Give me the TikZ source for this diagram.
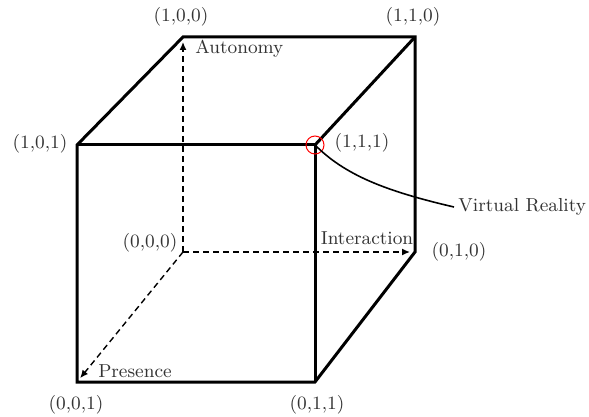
\documentclass[tikz,border=0pt]{standalone}
\usetikzlibrary{arrows.meta}
\begin{document}
\begin{tikzpicture}[x=0.5pt,y=-0.5pt,
  edge/.style={line width=1.5pt,line join=miter},
  axis/.style={line width=0.7pt,dash pattern=on 3pt off 2pt,-{Latex[length=4pt,width=3.5pt]},shorten >=2.5pt},
  lbl/.style={font=\fontsize{9.4}{11}\selectfont,text=black!80,inner sep=0pt},
  every node/.append style={lbl}]
\useasboundingbox (0,0) rectangle (589,417);
% vertices
\coordinate (o) at (183,252);
\coordinate (a) at (183,37);
\coordinate (i) at (415,252);
\coordinate (p) at (77,382);
\coordinate (ai) at (415,37);
\coordinate (ap) at (77,145);
\coordinate (aip) at (315,145);
\coordinate (ip) at (315,382);
% axes
\draw[axis] (o) -- (a);
\draw[axis] (o) -- (i);
\draw[axis] (o) -- (p);
% cube edges
\draw[edge] (ap) -- (a) -- (ai) -- (i) -- (ip) -- (p) -- cycle;
\draw[edge] (ap) -- (aip) -- (ip);
\draw[edge] (aip) -- (ai);
% labels
\node at (181,17) {(1,0,0)};
\node at (413,17) {(1,1,0)};
\node at (40,144) {(1,0,1)};
\node at (362,143) {(1,1,1)};
\node at (150,243) {(0,0,0)};
\node at (459,252) {(0,1,0)};
\node at (76,405) {(0,0,1)};
\node at (317,405) {(0,1,1)};
\node[anchor=west] at (195,49) {Autonomy};
\node at (367,238) {Interaction};
\node at (135,371) {Presence};
\node[anchor=west] (vr) at (458,207) {Virtual Reality};
% highlight
\draw[red,line width=0.5pt] (aip) circle[radius=4.5pt];
\draw[line width=0.8pt] (aip) .. controls (345,175) and (385,191) .. ([xshift=-2pt]vr.west);
\end{tikzpicture}
\end{document}
